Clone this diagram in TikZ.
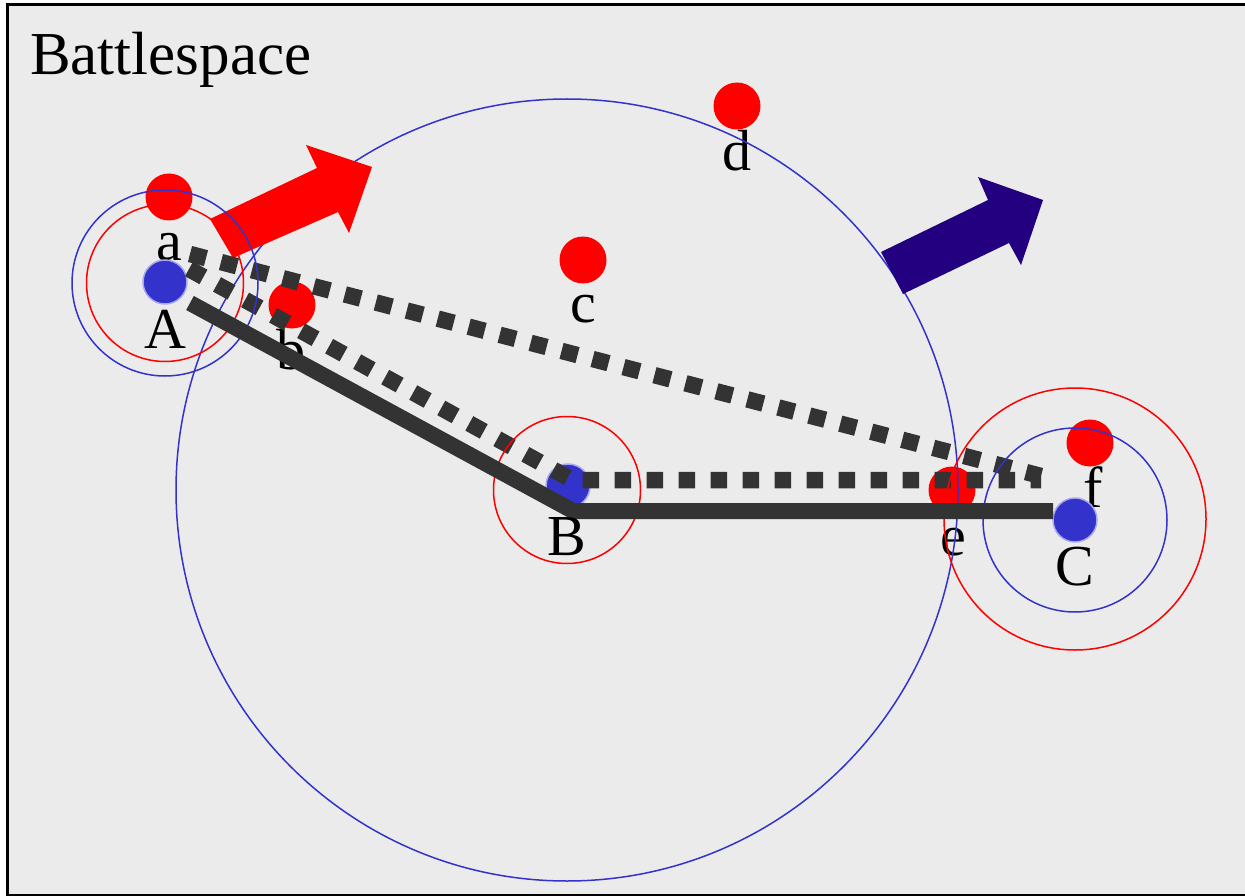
\documentclass[tikz,border=0pt]{standalone}
\usepackage{fontspec}
\setmainfont{Liberation Serif}
\definecolor{bg}{HTML}{EBEBEB}
\definecolor{ringblue}{HTML}{3333CC}
\definecolor{dotblue}{HTML}{3333CC}
\definecolor{glow}{HTML}{A8A8EE}
\definecolor{dark}{HTML}{333333}
\definecolor{indigo}{HTML}{220080}
\begin{document}
\begin{tikzpicture}[x=1pt,y=-1pt,
  reddot/.style={circle,fill=red,inner sep=0pt,minimum size=47pt},
  bluedot/.style={circle,fill=dotblue,draw=glow,line width=1.5pt,inner sep=0pt,minimum size=44pt},
  lbl/.style={anchor=base,inner sep=0pt,font=\fontsize{58}{60}\selectfont},
  ring/.style={circle,inner sep=0pt,line width=1.5pt},
  solidpath/.style={draw=dark,line width=16pt,line join=miter},
  dashpath/.style={draw=dark,line width=16.5pt,dash pattern=on 16.5pt off 15.5pt},
]
\useasboundingbox (0,0) rectangle (1245,896);
\fill[white] (0,0) rectangle (1245,896);
\fill[bg] (7.5,5) rectangle (1245,896);
\draw[line width=3pt] (7.5,5) rectangle (1246,895);
\node[anchor=base west,inner sep=0pt,font=\fontsize{61}{64}\selectfont] (title) at (30,75) {Battlespace};

% enemy dots and labels
\node[reddot] (a) at (169,197) {};
\node[reddot] (b) at (292,305) {};
\node[reddot] (c) at (583,260) {};
\node[reddot] (d) at (737,106) {};
\node[reddot] (e) at (952,490) {};
\node[reddot] (f) at (1090,443) {};
\node[lbl] (la) at (169,260) {a};
\node[lbl] (lb) at (291,369) {b};
\node[lbl] (lc) at (583,322) {c};
\node[lbl] (ld) at (737,171) {d};
\node[lbl] (le) at (953,555) {e};
\node[lbl] (lf) at (1093,507) {f};

% friendly dots
\node[bluedot] (A) at (165,282) {};
\node[bluedot] (B) at (568,486) {};
\node[bluedot] (C) at (1075,520) {};

% big range circle
\node[ring,draw=ringblue,minimum size=782pt] (big) at (567,490) {};

% arrows
\fill[red] (233,258) -- (210,219) -- (317,168) -- (306,145) -- (372,167) -- (349,233) -- (338,212) -- cycle;
\fill[indigo] (903,294) -- (881,252) -- (988,200) -- (978,177) -- (1043,200) -- (1021,265) -- (1009,243) -- cycle;

% dashed routes
\coordinate (p1s) at (190,254);
\coordinate (p1e) at (1041,476);
\coordinate (p2s) at (189,269);
\coordinate (p2m) at (572,480);
\coordinate (p2e) at (1041,480);
\draw[dashpath] (p1s) -- (p1e);
\draw[dashpath] (p2s) -- (p2m) -- (p2e);

% small range circles
\node[ring,draw=ringblue,minimum size=186pt] (rA1) at (165,283) {};
\node[ring,draw=red,minimum size=157pt] (rA2) at (165,283) {};
\node[ring,draw=red,minimum size=147pt] (rB) at (567,490) {};
\node[ring,draw=ringblue,minimum size=184pt] (rC1) at (1075,520) {};
\node[ring,draw=red,minimum size=262pt] (rC2) at (1075,519) {};

% solid route
\coordinate (s1) at (190,303);
\coordinate (s2) at (573,511);
\coordinate (s3) at (1053,511);
\draw[solidpath] (s1) -- (s2) -- (s3);

% friendly labels
\node[lbl] (lA) at (165,348) {A};
\node[lbl] (lB) at (567,555) {B};
\node[lbl] (lC) at (1075,585) {C};
\end{tikzpicture}
\end{document}
